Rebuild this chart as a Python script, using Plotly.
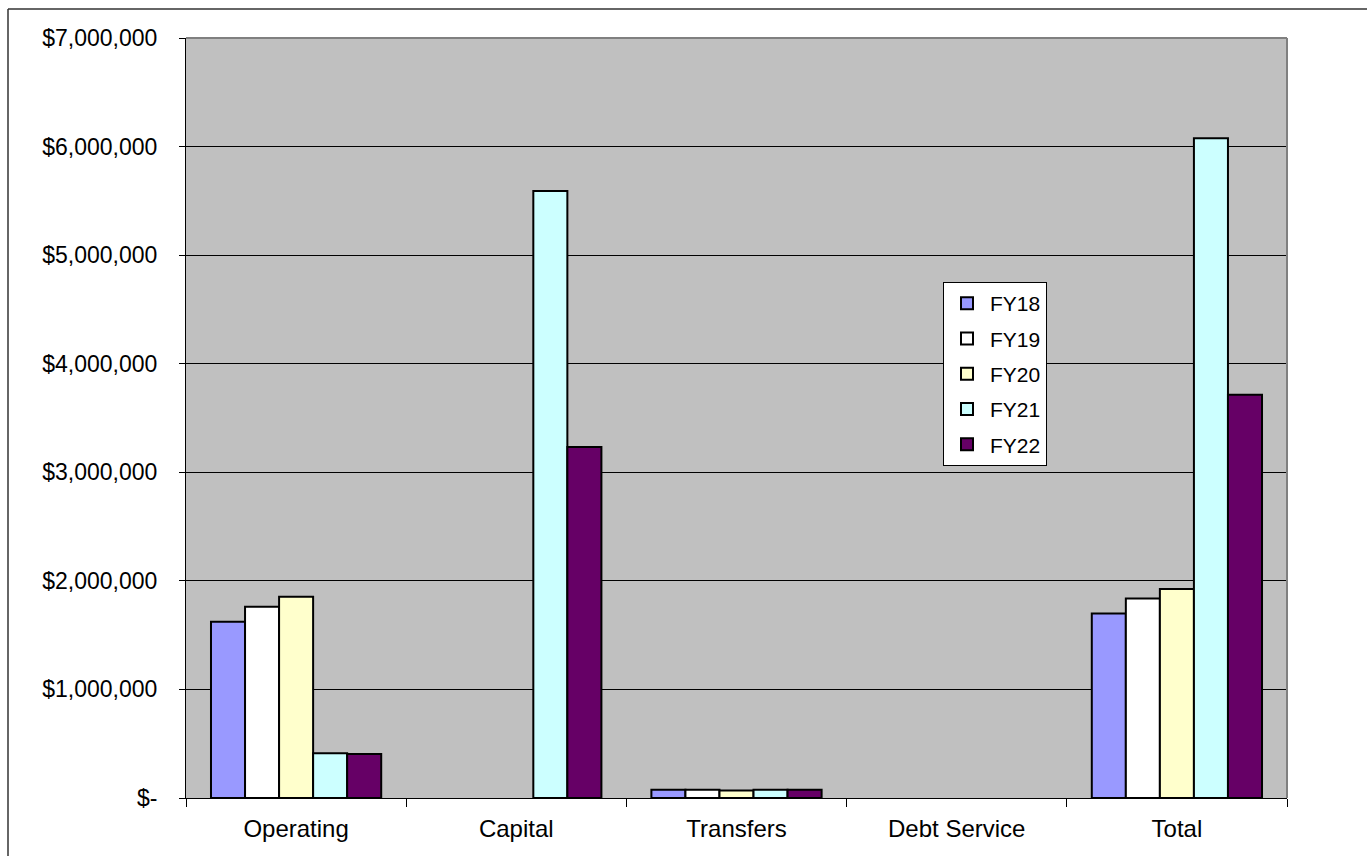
import plotly.graph_objects as go

# Spending by category and fiscal year (None = no spending in that category)
categories = ["Operating", "Capital", "Transfers", "Debt Service", "Total"]
years = ["FY18", "FY19", "FY20", "FY21", "FY22"]
fy18 = [1624000, None, 76000, None, 1700000]
fy19 = [1762000, None, 75000, None, 1837000]
fy20 = [1854000, None, 70000, None, 1924000]
fy21 = [412000, 5590000, 75000, None, 6077000]
fy22 = [405000, 3233000, 75000, None, 3713000]
series = [fy18, fy19, fy20, fy21, fy22]
colors = ["#9999FF", "#FFFFFF", "#FFFFCC", "#CCFFFF", "#660066"]

tick_values = [0, 1000000, 2000000, 3000000, 4000000, 5000000, 6000000, 7000000]
tick_text = ["$-" if v == 0 else "${:,}".format(v) for v in tick_values]

W, H = 1367, 856
L, R, T, B = 186, 80, 38, 58
pw, ph = W - L - R, H - T - B

FONT = "Arial, Liberation Sans, sans-serif"

fig = go.Figure()
for name, vals, col in zip(years, series, colors):
    fig.add_trace(go.Bar(
        name=name, x=categories, y=vals, legendgroup=name,
        marker=dict(color=col, line=dict(color="black", width=2)),
    ))

def px_x(x):
    return (x - L) / pw

def px_y(y):
    return 1 - (y - T) / ph

shapes = [
    # plot-area frame on top and right
    dict(type="line", xref="paper", yref="paper", x0=0, x1=1, y0=1, y1=1,
         line=dict(color="#808080", width=2), layer="above"),
    dict(type="line", xref="paper", yref="paper", x0=1, x1=1, y0=0, y1=1,
         line=dict(color="#808080", width=2), layer="above"),
    # outer chart border
    dict(type="line", xref="paper", yref="paper", x0=px_x(8), x1=px_x(W + 5),
         y0=px_y(9), y1=px_y(9), line=dict(color="#333333", width=1.5)),
    dict(type="line", xref="paper", yref="paper", x0=px_x(8), x1=px_x(8),
         y0=px_y(9), y1=px_y(H + 5), line=dict(color="#333333", width=1.5)),
]

fig.update_layout(
    width=W, height=H,
    margin=dict(l=L, r=R, t=T, b=B, autoexpand=False),
    paper_bgcolor="white",
    plot_bgcolor="#C0C0C0",
    barmode="group",
    bargap=0.227,
    bargroupgap=0,
    font=dict(family=FONT, size=23, color="black"),
    shapes=shapes,
    legend=dict(
        x=px_x(943), y=px_y(282), xanchor="left", yanchor="top",
        bgcolor="white", bordercolor="black", borderwidth=1,
        font=dict(family=FONT, size=21, color="black"),
        tracegroupgap=5,
        itemwidth=36,
        entrywidth=124,
    ),
    xaxis=dict(
        showline=True, linecolor="black", linewidth=1,
        ticks="outside", tickson="boundaries", ticklen=8, tickcolor="black",
        showgrid=False, ticklabelstandoff=9,
        tickfont=dict(size=24),
    ),
    yaxis=dict(
        range=[0, 7000000],
        tickvals=tick_values, ticktext=tick_text,
        showline=True, linecolor="black", linewidth=1,
        ticks="outside", ticklen=6, tickcolor="black",
        showgrid=True, gridcolor="black", gridwidth=1,
        zeroline=False, ticklabelstandoff=17,
    ),
)

fig.write_html("out.html")
